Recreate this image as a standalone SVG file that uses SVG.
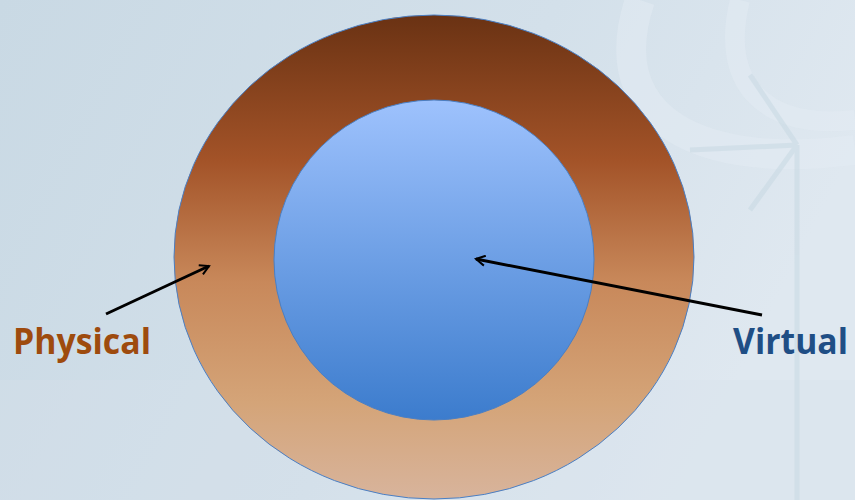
<svg xmlns="http://www.w3.org/2000/svg" width="855" height="500" viewBox="0 0 855 500">
<defs>
<linearGradient id="bg" x1="0" y1="0" x2="1" y2="0.3">
<stop offset="0" stop-color="#c9d9e4"/>
<stop offset="0.6" stop-color="#d3e0ea"/>
<stop offset="1" stop-color="#dfe8f0"/>
</linearGradient>
<linearGradient id="outerG" x1="0" y1="0" x2="0" y2="1">
<stop offset="0" stop-color="#6a3213"/>
<stop offset="0.3" stop-color="#a35328"/>
<stop offset="0.55" stop-color="#c8885a"/>
<stop offset="0.8" stop-color="#d4a478"/>
<stop offset="1" stop-color="#d8b49c"/>
</linearGradient>
<linearGradient id="innerG" x1="0" y1="0" x2="0" y2="1">
<stop offset="0" stop-color="#9ec2fd"/>
<stop offset="1" stop-color="#3c7ccd"/>
</linearGradient>
<marker id="arr" viewBox="0 0 12 12" refX="10" refY="6" markerWidth="12" markerHeight="12" markerUnits="userSpaceOnUse" orient="auto">
<path d="M1,1 L10,6 L1,11" fill="none" stroke="#000" stroke-width="2"/>
</marker>
<style>
.ring{stroke:#4a7fc4;stroke-width:1}
.conn{stroke:#000;stroke-width:3;fill:none;marker-end:url(#arr)}
.lbl{font-family:"Open Sans","Liberation Sans",sans-serif;font-weight:bold;font-size:36px}
.deco{fill:none;stroke:#e3ecf3;opacity:0.5}
</style>
</defs>
<rect width="855" height="500" fill="url(#bg)"/>
<g id="background">
<path class="deco" d="M640,0 C600,120 700,170 855,150" stroke-width="30"/>
<path class="deco" d="M740,0 C720,80 760,130 855,120" stroke-width="20"/>
<rect x="0" y="380" width="855" height="120" fill="#d6e2ea" opacity="0.3"/>
<g stroke="#c6d8e2" stroke-width="5" fill="none" opacity="0.5">
<line x1="797" y1="145" x2="797" y2="500"/>
<line x1="797" y1="145" x2="690" y2="150"/>
<line x1="797" y1="145" x2="750" y2="75"/>
<line x1="797" y1="145" x2="750" y2="210"/>
</g>
</g>
<g id="physical">
<ellipse class="ring" cx="434" cy="257" rx="260" ry="242" fill="url(#outerG)"/>
</g>
<g id="virtual">
<circle class="ring" cx="434" cy="260" r="160" fill="url(#innerG)"/>
</g>
<g id="connectors">
<line class="conn" x1="106" y1="314" x2="209" y2="266"/>
<line class="conn" x1="762" y1="315" x2="476" y2="259"/>
</g>
<g id="labels">
<text class="lbl" x="13" y="354" fill="#9e4b0e" textLength="138" lengthAdjust="spacingAndGlyphs">Physical</text>
<text class="lbl" x="733" y="354" fill="#1f4e85" textLength="115" lengthAdjust="spacingAndGlyphs">Virtual</text>
</g>
</svg>
